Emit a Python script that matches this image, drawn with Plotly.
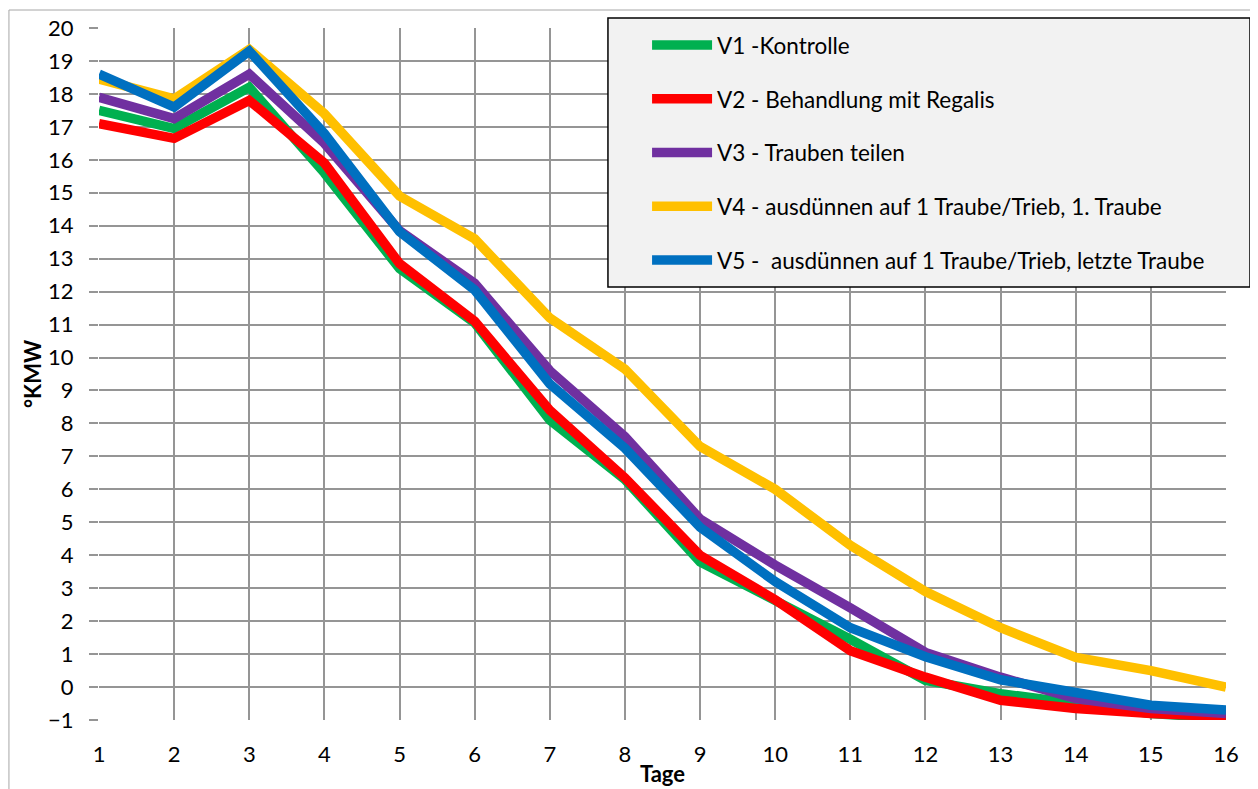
import plotly.graph_objects as go

days = list(range(1, 17))

v1 = [17.5, 16.95, 18.2, 15.6, 12.7, 11.05, 8.1, 6.3, 3.8, 2.65, 1.45, 0.2, -0.2, -0.5, -0.8, -0.95]
v2 = [17.1, 16.65, 17.8, 15.9, 12.85, 11.1, 8.4, 6.35, 4.0, 2.65, 1.1, 0.3, -0.4, -0.65, -0.8, -0.9]
v3 = [17.9, 17.25, 18.6, 16.5, 13.85, 12.25, 9.6, 7.6, 5.1, 3.7, 2.4, 1.05, 0.3, -0.35, -0.65, -0.8]
v4 = [18.45, 17.85, 19.35, 17.4, 14.9, 13.6, 11.2, 9.65, 7.3, 6.0, 4.3, 2.9, 1.8, 0.9, 0.5, 0.0]
v5 = [18.6, 17.6, 19.3, 16.8, 13.82, 12.05, 9.2, 7.25, 4.85, 3.2, 1.8, 0.92, 0.22, -0.2, -0.55, -0.7]

names = [
    "V1 -Kontrolle",
    "V2 - Behandlung mit Regalis",
    "V3 - Trauben teilen",
    "V4 - ausdünnen auf 1 Traube/Trieb, 1. Traube",
    "V5 -  ausdünnen auf 1 Traube/Trieb, letzte Traube",
]
colors = ["#00b050", "#ff0000", "#7030a0", "#ffc000", "#0070c0"]
series = [v1, v2, v3, v4, v5]

y_ticks = list(range(-1, 21))
x_ticks = days

FONT = "Lato, Open Sans, sans-serif"
GRID = "#959595"

fig = go.Figure()
for i, (nm, col, vals) in enumerate(zip(names, colors, series)):
    fig.add_trace(go.Scatter(
        x=days, y=vals, mode="lines", name=nm,
        line=dict(color=col, width=9.5),
        legendgroup=f"g{i}",
    ))

fig.update_layout(
    width=1250, height=781,
    margin=dict(l=91, r=32, t=20, b=69, autoexpand=False),
    paper_bgcolor="white", plot_bgcolor="white",
    font=dict(family=FONT, size=22, color="black"),
    showlegend=True,
    legend=dict(
        x=0.4863, y=1.006, xanchor="left", yanchor="top",
        bgcolor="rgba(0,0,0,0)", borderwidth=0,
        font=dict(family=FONT, size=22.5, color="black"),
        tracegroupgap=21.5, itemwidth=60,
    ),
    xaxis=dict(
        range=[1, 16], tickmode="array", tickvals=x_ticks,
        showgrid=True, gridcolor=GRID, gridwidth=1.5,
        zeroline=False, showline=False, ticks="",
        ticklabelstandoff=19, automargin=False,
        title=dict(text="<b>Tage</b>", standoff=0, font=dict(size=22)),
    ),
    yaxis=dict(
        range=[-1, 20], tickmode="array", tickvals=y_ticks,
        showgrid=True, gridcolor=GRID, gridwidth=1.5,
        zeroline=False, showline=False,
        ticks="outside", ticklen=9, tickcolor=GRID, tickwidth=1.5,
        ticklabelstandoff=11, automargin=False,
        title=dict(text="<b>°KMW</b>", standoff=0, font=dict(size=22)),
    ),
    shapes=[
        dict(
            type="rect", xref="paper", yref="paper",
            x0=-0.0799, x1=1.0266, y0=-0.2, y1=1.026,
            line=dict(color="#a6a6a6", width=1), layer="below",
        ),
        dict(
            type="rect", xref="paper", yref="paper",
            x0=0.4516, x1=1.0213, y0=0.6257, y1=1.0145,
            fillcolor="#f2f2f2", line=dict(color="black", width=1.5),
            layer="above",
        ),
    ],
)

fig.write_html("out.html")
